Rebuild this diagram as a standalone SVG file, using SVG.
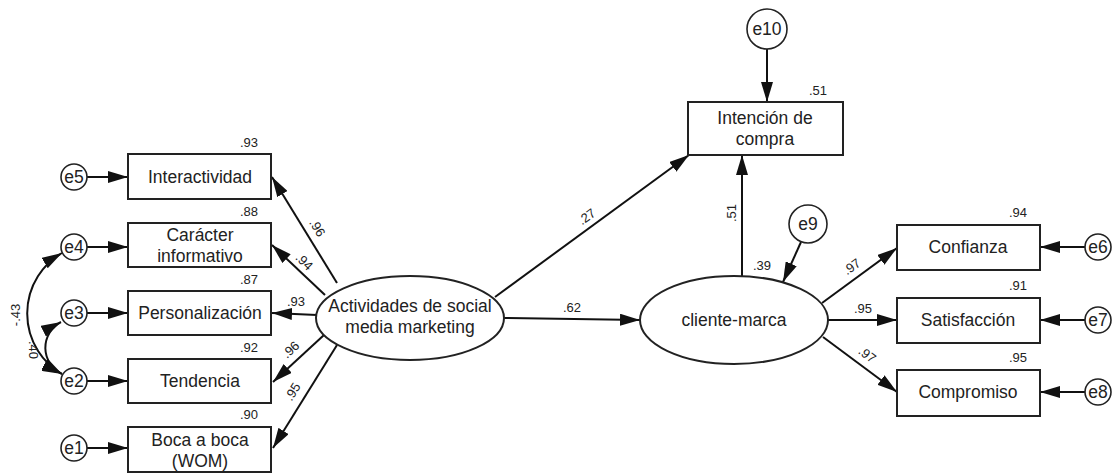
<svg xmlns="http://www.w3.org/2000/svg" width="1115" height="473" viewBox="0 0 1115 473">
<style>
.box{fill:#fff;stroke:#222;stroke-width:2}
.circ{fill:#fff;stroke:#222;stroke-width:1.6}
.lat{fill:#fff;stroke:#222;stroke-width:2}
.t{font-family:"Liberation Sans",Arial,sans-serif;font-size:17.5px;fill:#222;text-anchor:middle}
.s{font-family:"Liberation Sans",Arial,sans-serif;font-size:13px;fill:#222;text-anchor:middle}
.c{fill:none;stroke:#111;stroke-width:2;marker-end:url(#ah)}
.cv{fill:none;stroke:#111;stroke-width:2;marker-start:url(#ah);marker-end:url(#ah)}
</style>
<defs>
<marker id="ah" viewBox="0 0 20 12" refX="20" refY="6" markerWidth="20" markerHeight="12" markerUnits="userSpaceOnUse" orient="auto-start-reverse">
<path d="M0,0 L20,6 L0,12 z" fill="#111"/>
</marker>
</defs>
<g id="connectors">
<path class="c" d="M87,177 L128,177"/>
<path class="c" d="M87,247 L128,247"/>
<path class="c" d="M87,313 L128,313"/>
<path class="c" d="M87,381 L128,381"/>
<path class="c" d="M87,448 L128,448"/>
<path class="cv" d="M62,253 A70,70 0 0 0 62,374"/>
<path class="cv" d="M61,322 A29,29 0 0 0 62,374"/>
<path class="c" d="M337,283 L272,177"/>
<path class="c" d="M325,295 L272,245"/>
<path class="c" d="M317,315 L272,313"/>
<path class="c" d="M324,335 L273,382"/>
<path class="c" d="M337,345 L273,448"/>
<path class="c" d="M504,318 L640,320"/>
<path class="c" d="M495,297 L689,155"/>
<path class="c" d="M742,276 L742,155"/>
<path class="c" d="M767,49 L767,102"/>
<path class="c" d="M801,242 L783,282"/>
<path class="c" d="M822,303 L897,248"/>
<path class="c" d="M828,320 L897,320"/>
<path class="c" d="M823,337 L897,392"/>
<path class="c" d="M1085,247 L1040,247"/>
<path class="c" d="M1085,320 L1040,320"/>
<path class="c" d="M1085,392 L1040,392"/>
<text class="s" transform="translate(16,315) rotate(-90)" dy="4">-.43</text>
<text class="s" transform="translate(33,350) rotate(90)" dy="4">.40</text>
<text class="s" transform="translate(317,228) rotate(58)" dy="4">.96</text>
<text class="s" transform="translate(304,262) rotate(44)" dy="4">.94</text>
<text class="s" x="296" y="306">.93</text>
<text class="s" transform="translate(291,350) rotate(-43)" dy="4">.96</text>
<text class="s" transform="translate(293,392) rotate(-58)" dy="4">.95</text>
<text class="s" x="572" y="312">.62</text>
<text class="s" transform="translate(587,217) rotate(-36)" dy="4">.27</text>
<text class="s" transform="translate(732,213) rotate(-90)" dy="4">.51</text>
<text class="s" transform="translate(852,267) rotate(-36)" dy="4">.97</text>
<text class="s" x="863" y="313">.95</text>
<text class="s" transform="translate(867,355) rotate(37)" dy="4">.97</text>
</g>
<g id="e5"><circle class="circ" cx="74" cy="177" r="13"/><text class="t" x="74" y="183">e5</text></g>
<g id="e4"><circle class="circ" cx="74" cy="247" r="13"/><text class="t" x="74" y="253">e4</text></g>
<g id="e3"><circle class="circ" cx="74" cy="313" r="13"/><text class="t" x="74" y="319">e3</text></g>
<g id="e2"><circle class="circ" cx="74" cy="381" r="13"/><text class="t" x="74" y="387">e2</text></g>
<g id="e1"><circle class="circ" cx="74" cy="448" r="13"/><text class="t" x="74" y="454">e1</text></g>
<g id="interactividad"><rect class="box" x="128" y="154" width="143" height="45"/><text class="t" x="200" y="183">Interactividad</text><text class="s" x="249" y="147">.93</text></g>
<g id="caracter"><rect class="box" x="128" y="223" width="143" height="44"/><text class="t" x="200" y="241">Carácter</text><text class="t" x="200" y="262">informativo</text><text class="s" x="249" y="216">.88</text></g>
<g id="personalizacion"><rect class="box" x="128" y="291" width="143" height="44"/><text class="t" x="200" y="319">Personalización</text><text class="s" x="249" y="284">.87</text></g>
<g id="tendencia"><rect class="box" x="128" y="359" width="143" height="44"/><text class="t" x="200" y="387">Tendencia</text><text class="s" x="249" y="352">.92</text></g>
<g id="boca"><rect class="box" x="128" y="427" width="143" height="45"/><text class="t" x="200" y="446">Boca a boca</text><text class="t" x="200" y="467">(WOM)</text><text class="s" x="249" y="419">.90</text></g>
<g id="smm"><ellipse class="lat" cx="410" cy="318" rx="94" ry="42"/><text class="t" x="410" y="312">Actividades de social</text><text class="t" x="410" y="333">media marketing</text></g>
<g id="cliente"><ellipse class="lat" cx="734" cy="320" rx="94" ry="44"/><text class="t" x="734" y="326">cliente-marca</text><text class="s" x="762" y="270">.39</text></g>
<g id="e9"><circle class="circ" cx="808" cy="224" r="19"/><text class="t" x="808" y="230">e9</text></g>
<g id="intencion"><rect class="box" x="688" y="102" width="155" height="53"/><text class="t" x="765" y="124">Intención de</text><text class="t" x="765" y="145">compra</text><text class="s" x="818" y="95">.51</text></g>
<g id="e10"><circle class="circ" cx="767" cy="29" r="20"/><text class="t" x="767" y="35">e10</text></g>
<g id="confianza"><rect class="box" x="897" y="225" width="143" height="45"/><text class="t" x="968" y="253">Confianza</text><text class="s" x="1018" y="217">.94</text></g>
<g id="satisfaccion"><rect class="box" x="897" y="298" width="143" height="45"/><text class="t" x="968" y="326">Satisfacción</text><text class="s" x="1018" y="290">.91</text></g>
<g id="compromiso"><rect class="box" x="897" y="370" width="143" height="46"/><text class="t" x="968" y="398">Compromiso</text><text class="s" x="1018" y="362">.95</text></g>
<g id="e6"><circle class="circ" cx="1098" cy="247" r="13"/><text class="t" x="1098" y="253">e6</text></g>
<g id="e7"><circle class="circ" cx="1098" cy="320" r="13"/><text class="t" x="1098" y="326">e7</text></g>
<g id="e8"><circle class="circ" cx="1098" cy="392" r="13"/><text class="t" x="1098" y="398">e8</text></g>
</svg>
